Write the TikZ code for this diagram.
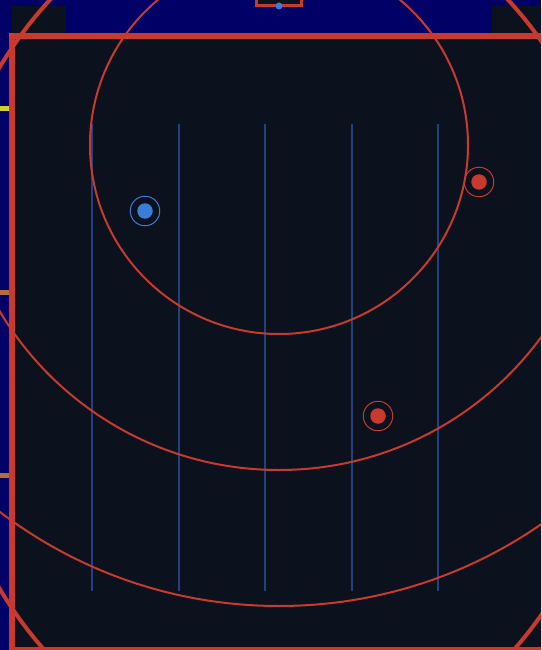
\documentclass[tikz,border=0pt]{standalone}
\definecolor{navy}{RGB}{0,0,102}
\definecolor{pitch}{RGB}{12,17,30}
\definecolor{linered}{RGB}{200,58,45}
\definecolor{laneblue}{RGB}{35,65,125}
\definecolor{dotblue}{RGB}{58,125,216}
\definecolor{markyellow}{RGB}{212,210,40}
\definecolor{markorange}{RGB}{180,110,60}

\begin{document}
\begin{tikzpicture}[x=1pt,y=-1pt]
  \tikzstyle{zone}=[draw=linered, line width=2pt]
  \tikzstyle{lane}=[draw=laneblue, line width=1.6pt]
  \tikzstyle{bluedot}=[circle, fill=dotblue, minimum size=15.5pt, inner sep=0pt]
  \tikzstyle{reddot}=[circle, fill=linered, minimum size=15.5pt, inner sep=0pt]
  \tikzstyle{bluering}=[circle, draw=dotblue, line width=1pt, minimum size=29.5pt, inner sep=0pt]
  \tikzstyle{redring}=[circle, draw=linered, line width=1pt, minimum size=29.5pt, inner sep=0pt]

  \useasboundingbox (0,0) rectangle (541,650);
  \clip (0,0) rectangle (541,650);
  \fill[navy] (0,0) rectangle (541,650);
  \fill[pitch] (12,6) rectangle (66,36);
  \fill[pitch] (492,6) rectangle (546,36);
  \fill[pitch] (12,36) rectangle (546,660);

  \foreach \x in {92,179,265,352,438}
    \draw[lane] (\x,124) -- (\x,591);

  \foreach \r in {189,325,461}
    \draw[zone] (279,145) circle[radius=\r];
  \draw[linered, line width=4pt] (279,328) ellipse[x radius=349, y radius=435];

  \draw[linered, line width=6pt] (12,36) rectangle (546,650);
  \draw[linered, line width=3pt, fill=pitch] (256.5,-6) rectangle (301.5,6);
  \node[circle, fill=dotblue, minimum size=7pt, inner sep=0pt] (gate) at (279,6) {};

  \fill[markyellow] (0,106.5) rectangle (9,111.5);
  \fill[markorange] (0,289.5) rectangle (9,294.5);
  \fill[markorange] (0,472.5) rectangle (9,477.5);

  \node[bluering] (b1ring) at (145,211) {};
  \node[bluedot] (b1) at (145,211) {};
  \node[redring] (r1ring) at (479,182) {};
  \node[reddot] (r1) at (479,182) {};
  \node[redring] (r2ring) at (378,416) {};
  \node[reddot] (r2) at (378,416) {};
\end{tikzpicture}
\end{document}
